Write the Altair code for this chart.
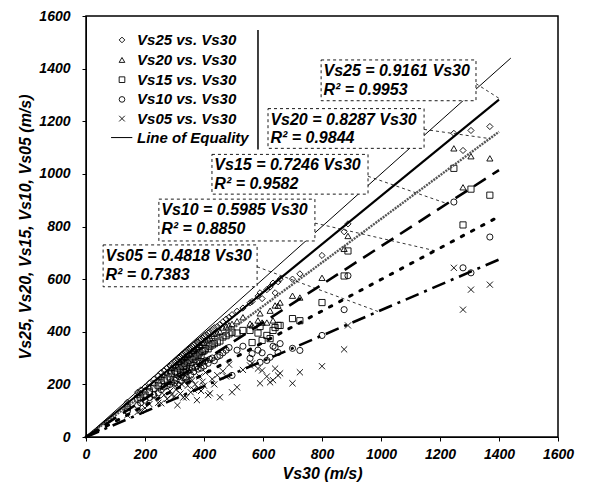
import altair as alt
import pandas as pd

# ---- data ----
vs30 = [140, 175, 185, 200, 215, 230, 245, 255, 265, 275, 285, 290, 300, 305, 310, 315, 320, 325, 330, 335,
        340, 345, 350, 355, 360, 365, 370, 376, 380, 385, 390, 395, 400, 405, 414, 420, 428, 435, 445, 454,
        464, 475, 485, 495, 512, 532, 556, 563, 583, 590, 597, 613, 624, 634, 641, 651, 658, 700, 725, 800,
        875, 888, 1247, 1278, 1305, 1369]
vs25 = [132, 170, 178, 190, 205, 220, 232, 245, 252, 262, 270, 278, 285, 292, 295, 300, 305, 312, 315, 322,
        325, 330, 335, 338, 345, 350, 355, 360, 362, 368, 372, 378, 382, 388, 395, 400, 408, 415, 420, 428,
        438, 448, 455, 465, 478, 490, 510, 515, 535, 548, 526, 560, 570, 585, 548, 590, 600, 600, 620, 690,
        780, 810, 1154, 1089, 1165, 1180]
vs20 = [125, 160, 168, 178, 190, 205, 215, 230, 235, 245, 252, 262, 265, 275, 270, 285, 285, 295, 298, 305,
        300, 312, 318, 315, 328, 330, 335, 340, 342, 350, 348, 358, 360, 368, 372, 378, 385, 392, 395, 400,
        416, 420, 425, 430, 440, 455, 431, 424, 443, 470, 435, 435, 480, 443, 500, 499, 511, 537, 530, 605,
        715, 764, 1097, 949, 1067, 1059]
vs15 = [112, 145, 150, 160, 172, 185, 195, 205, 215, 220, 228, 240, 240, 250, 245, 262, 255, 270, 268, 280,
        270, 285, 292, 282, 300, 295, 305, 308, 312, 320, 310, 325, 328, 335, 335, 345, 350, 355, 360, 365,
        380, 385, 392, 398, 395, 405, 405, 359, 395, 420, 367, 386, 374, 405, 416, 424, 424, 450, 442, 511,
        612, 707, 1021, 806, 942, 919]
vs10 = [98, 120, 130, 140, 150, 160, 168, 180, 190, 195, 200, 210, 205, 215, 200, 230, 215, 235, 225, 245,
        228, 250, 255, 235, 262, 248, 265, 270, 258, 280, 262, 285, 270, 290, 280, 295, 300, 290, 305, 310,
        320, 330, 340, 234, 330, 345, 299, 317, 330, 284, 320, 291, 303, 345, 340, 321, 355, 337, 329, 386,
        484, 613, 893, 643, 624, 760]
vs05 = [83, 95, 100, 110, 125, 150, 130, 128, 160, 145, 175, 160, 155, 180, 121, 190, 165, 200, 150, 210,
        151, 195, 220, 170, 215, 180, 200, 140, 185, 230, 175, 210, 195, 245, 159, 166, 220, 200, 235, 151,
        250, 230, 275, 170, 189, 255, 272, 280, 260, 204, 253, 230, 208, 216, 260, 234, 242, 204, 246, 269,
        333, 424, 643, 484, 560, 579]

series_names = ["Vs25 vs. Vs30", "Vs20 vs. Vs30", "Vs15 vs. Vs30", "Vs10 vs. Vs30", "Vs05 vs. Vs30"]
series_values = [vs25, vs20, vs15, vs10, vs05]
shapes = ["diamond", "triangle-up", "square", "circle", "M-1,-1L1,1M-1,1L1,-1"]

slopes = [0.9161, 0.8287, 0.7246, 0.5985, 0.4818]
r2 = ["0.9953", "0.9844", "0.9582", "0.8850", "0.7383"]
eq_names = ["Vs25", "Vs20", "Vs15", "Vs10", "Vs05"]
fit_end = 1400
equality_end = 1440

# annotation boxes: x1, x2, y1, y2 (data units)
boxes = [(797, 1322, 1278, 1433), (617, 1146, 1097, 1248), (427, 956, 923, 1074),
         (247, 776, 745, 904), (58, 580, 571, 730)]
leaders = [(1322, 1343, 1403, 1285), (1146, 1169, 1369, 1134), (956, 991, 1224, 887),
           (776, 813, 1183, 708), (580, 647, 990, 477)]

legend_rows_y = [1509, 1433, 1358, 1283, 1210]
legend_loe_y = 1138

FONT = "Liberation Sans"

# ---- build tables ----
pts = pd.DataFrame([
    {"vs30": x, "val": v, "series": name}
    for name, vals in zip(series_names, series_values)
    for x, v in zip(vs30, vals)
])

xs = alt.Scale(domain=[0, 1600], nice=False)
ys = alt.Scale(domain=[0, 1600], nice=False)
shape_scale = alt.Scale(domain=series_names, range=shapes)

xaxis = alt.Axis(values=list(range(0, 1601, 100)), format="d",
                 labelExpr="datum.value % 200 == 0 ? datum.label : ''",
                 title="Vs30 (m/s)", grid=False, tickSize=4, labelPadding=6,
                 titlePadding=4, labelFlush=False)
yaxis = alt.Axis(values=list(range(0, 1601, 100)), format="d",
                 labelExpr="datum.value % 200 == 0 ? datum.label : ''",
                 title="Vs25, Vs20, Vs15, Vs10, Vs05 (m/s)", grid=False, tickSize=4,
                 labelPadding=12, titlePadding=5, labelFlush=False)

points = alt.Chart(pts).mark_point(filled=False, color="black", strokeWidth=0.9, size=38, opacity=1).encode(
    x=alt.X("vs30:Q", scale=xs, axis=xaxis),
    y=alt.Y("val:Q", scale=ys, axis=yaxis),
    shape=alt.Shape("series:N", scale=shape_scale, legend=None),
)

def fit_line(slope, **style):
    df = pd.DataFrame({"vs30": [0, fit_end], "val": [0, slope * fit_end]})
    return alt.Chart(df).mark_line(**style).encode(x=alt.X("vs30:Q", scale=xs), y=alt.Y("val:Q", scale=ys))

eq_df = pd.DataFrame({"vs30": [0, equality_end], "val": [0, equality_end]})
equality = alt.Chart(eq_df).mark_line(color="black", strokeWidth=1).encode(
    x=alt.X("vs30:Q", scale=xs), y=alt.Y("val:Q", scale=ys))

line_styles = [
    dict(color="black", strokeWidth=2.2),
    dict(color="#555555", strokeWidth=2.4, strokeDash=[2, 1]),
    dict(color="black", strokeWidth=2.6, strokeDash=[14, 8]),
    dict(color="black", strokeWidth=3, strokeDash=[2.5, 9], strokeCap="round"),
    dict(color="black", strokeWidth=2.6, strokeDash=[14, 6, 3, 6]),
]
fits = [fit_line(s, **st) for s, st in zip(slopes, line_styles)]

lead_df = pd.DataFrame([{"x": a, "y": b, "x2": c, "y2": d} for a, b, c, d in leaders])
leader_lines = alt.Chart(lead_df).mark_rule(color="black", strokeWidth=0.8, strokeDash=[3, 3]).encode(
    x=alt.X("x:Q", scale=xs), y=alt.Y("y:Q", scale=ys), x2="x2:Q", y2="y2:Q")

box_df = pd.DataFrame([{"x": a, "x2": b, "y": c, "y2": d} for a, b, c, d in boxes])
box_marks = alt.Chart(box_df).mark_rect(fill="white", stroke="black", strokeWidth=0.9,
                                        strokeDash=[3, 3]).encode(
    x=alt.X("x:Q", scale=xs), x2="x2:Q", y=alt.Y("y:Q", scale=ys), y2="y2:Q")

txt_rows = []
for (x1, x2, y1, y2), nm, s, r in zip(boxes, eq_names, slopes, r2):
    txt_rows.append({"x": x1 + 8, "y": y2 - 42, "t": f"{nm} = {s:.4f} Vs30"})
    txt_rows.append({"x": x1 + 8, "y": y2 - 113, "t": f"R\u00b2 = {r}"})
txt_df = pd.DataFrame(txt_rows)
box_text = alt.Chart(txt_df).mark_text(align="left", baseline="middle", font=FONT, fontSize=16,
                                       fontWeight="bold", fontStyle="italic", color="black").encode(
    x=alt.X("x:Q", scale=xs), y=alt.Y("y:Q", scale=ys), text="t:N")

# ---- legend (drawn inside the plot) ----
leg_df = pd.DataFrame({"x": [122] * 5, "y": legend_rows_y, "series": series_names})
leg_sym = alt.Chart(leg_df).mark_point(filled=False, color="black", strokeWidth=0.9, size=32, opacity=1).encode(
    x=alt.X("x:Q", scale=xs), y=alt.Y("y:Q", scale=ys),
    shape=alt.Shape("series:N", scale=shape_scale, legend=None))
leg_txt_df = pd.DataFrame({"x": [173] * 6, "y": legend_rows_y + [legend_loe_y],
                           "t": series_names + ["Line of Equality"]})
leg_txt = alt.Chart(leg_txt_df).mark_text(align="left", baseline="middle", font=FONT, fontSize=15,
                                          fontWeight="bold", fontStyle="italic", color="black").encode(
    x=alt.X("x:Q", scale=xs), y=alt.Y("y:Q", scale=ys), text="t:N")
loe_df = pd.DataFrame({"x": [85], "x2": [157], "y": [legend_loe_y]})
leg_loe = alt.Chart(loe_df).mark_rule(color="black", strokeWidth=1).encode(
    x=alt.X("x:Q", scale=xs), x2="x2:Q", y=alt.Y("y:Q", scale=ys))
border_df = pd.DataFrame({"x": [583], "y": [1093], "y2": [1547]})
leg_border = alt.Chart(border_df).mark_rule(color="black", strokeWidth=1.5).encode(
    x=alt.X("x:Q", scale=xs), y=alt.Y("y:Q", scale=ys), y2="y2:Q")

chart = alt.layer(points, equality, *fits, leader_lines, box_marks, box_text,
                  leg_sym, leg_txt, leg_loe, leg_border).properties(
    width=472, height=421,
    autosize=alt.AutoSizeParams(type="none"),
    padding={"left": 78, "top": 8, "right": 20, "bottom": 55},
).configure_view(stroke="black", strokeWidth=1.5).configure_axis(
    labelFont=FONT, labelFontSize=14, labelFontWeight="bold", labelFontStyle="italic",
    titleFont=FONT, titleFontSize=16, titleFontWeight="bold", titleFontStyle="italic",
    labelColor="black", titleColor="black", tickColor="black", domainColor="black",
)

chart.save("out.html", embed_options={"renderer": "svg", "actions": False})
